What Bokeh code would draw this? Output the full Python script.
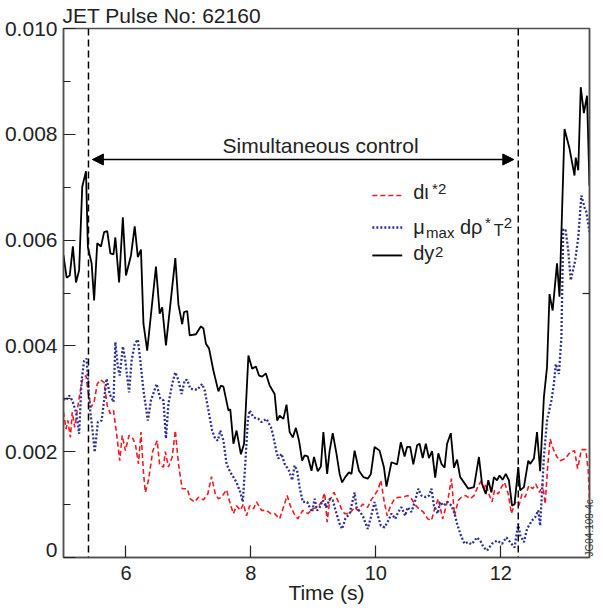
import math
from bokeh.plotting import figure
from bokeh.models import Range1d, FixedTicker, LinearAxis, Label, Arrow, NormalHead, Span
from bokeh.embed import file_html
from bokeh.resources import INLINE

# ---------------- data (values in units of 1e-3) ----------------
dy_t = [5.00, 5.05, 5.10, 5.15, 5.20, 5.25, 5.30, 5.36, 5.39, 5.45, 5.49, 5.54, 5.60, 5.65, 5.70,
        5.75, 5.80, 5.83, 5.89, 5.95, 6.00, 6.08, 6.14, 6.19, 6.24, 6.28, 6.34, 6.48, 6.54, 6.58,
        6.64, 6.79, 6.84, 6.90, 6.93, 6.98, 7.02, 7.12, 7.20, 7.24, 7.28, 7.33, 7.40, 7.48, 7.52,
        7.56, 7.64, 7.67, 7.72, 7.77, 7.84, 7.89, 7.96, 8.02, 8.08, 8.13, 8.18, 8.24, 8.30, 8.38,
        8.42, 8.46, 8.52, 8.57, 8.62, 8.67, 8.72, 8.77, 8.82, 8.86, 8.91, 8.97, 9.01, 9.07, 9.12,
        9.16, 9.22, 9.26, 9.31, 9.37, 9.42, 9.46, 9.51, 9.57, 9.61, 9.66, 9.73, 9.80, 9.87, 9.92,
        9.98, 10.06, 10.13, 10.17, 10.25, 10.34, 10.40, 10.46, 10.50, 10.55, 10.60, 10.66, 10.70,
        10.75, 10.80, 10.85, 10.90, 10.95, 11.00, 11.05, 11.10, 11.14, 11.20, 11.25, 11.30, 11.35,
        11.41, 11.48, 11.57, 11.65, 11.70, 11.76, 11.80, 11.85, 11.89, 11.94, 11.98, 12.03, 12.08,
        12.13, 12.18, 12.22, 12.28, 12.31, 12.37, 12.44, 12.47, 12.53, 12.58, 12.63, 12.69, 12.74,
        12.78, 12.83, 12.90, 12.94, 13.02, 13.10, 13.18, 13.20, 13.24, 13.28, 13.33, 13.38, 13.42]
dy_v = [5.71, 5.29, 5.33, 5.88, 5.20, 5.43, 7.01, 7.30, 5.87, 5.56, 4.86, 5.94, 5.88, 6.15, 6.17,
        5.75, 5.73, 6.05, 5.20, 6.43, 5.33, 5.71, 6.26, 5.68, 5.82, 4.42, 3.91, 5.50, 4.61, 4.73,
        4.01, 5.66, 4.78, 4.41, 4.64, 4.66, 4.20, 4.22, 4.37, 4.33, 4.04, 3.95, 3.53, 3.14, 3.25,
        3.23, 2.78, 2.80, 2.15, 2.40, 1.95, 2.15, 3.82, 3.57, 3.61, 3.44, 3.42, 3.48, 3.25, 3.09,
        2.59, 2.68, 2.62, 2.89, 2.37, 2.27, 2.45, 2.21, 1.83, 1.93, 1.91, 1.64, 1.90, 1.63, 1.72,
        2.37, 1.58, 2.02, 2.35, 1.96, 1.58, 1.42, 1.52, 1.61, 1.58, 2.02, 1.64, 1.52, 1.49, 1.58,
        2.09, 2.02, 1.70, 1.34, 1.80, 1.76, 2.18, 1.91, 2.09, 2.09, 1.76, 2.12, 2.15,
        1.88, 2.15, 1.88, 2.01, 1.51, 1.97, 1.77, 1.70, 2.15, 2.35, 1.70, 1.85, 1.52,
        1.42, 1.30, 1.33, 1.90, 1.39, 1.20, 1.46, 1.23, 1.52, 1.46, 1.55, 1.47, 1.58,
        1.46, 0.98, 1.01, 1.71, 1.27, 1.33, 1.83, 1.77, 1.87, 2.37, 1.63, 3.03, 3.60,
        4.98, 4.67, 5.56, 4.93, 8.10, 7.73, 7.22, 7.56, 7.32, 8.89, 8.40, 8.73, 7.03]

mu_t = [5.00, 5.04, 5.09, 5.14, 5.20, 5.25, 5.29, 5.33, 5.37, 5.42, 5.46, 5.50, 5.55, 5.61, 5.65,
        5.69, 5.74, 5.80, 5.83, 5.87, 5.90, 5.95, 5.99, 6.05, 6.09, 6.14, 6.19, 6.23, 6.28, 6.35,
        6.40, 6.49, 6.55, 6.60, 6.64, 6.68, 6.74, 6.79, 6.84, 6.89, 6.94, 6.98, 7.03, 7.14, 7.22,
        7.26, 7.32, 7.38, 7.43, 7.47, 7.51, 7.56, 7.61, 7.67, 7.72, 7.77, 7.83, 7.87, 7.91, 7.95,
        7.98, 8.04, 8.12, 8.17, 8.25, 8.32, 8.35, 8.41, 8.44, 8.49, 8.54, 8.61, 8.66, 8.70, 8.74,
        8.78, 8.83, 8.90, 8.94, 8.98, 9.02, 9.06, 9.10, 9.15, 9.21, 9.26, 9.31, 9.37, 9.42, 9.46,
        9.51, 9.58, 9.63, 9.66, 9.69, 9.75, 9.80, 9.87, 9.92, 9.98, 10.03, 10.08, 10.14, 10.20,
        10.25, 10.31, 10.36, 10.41, 10.47, 10.51, 10.57, 10.63, 10.68, 10.73, 10.80, 10.85, 10.89,
        10.93, 10.99, 11.03, 11.08, 11.15, 11.21, 11.26, 11.30, 11.36, 11.42, 11.47, 11.53, 11.58,
        11.62, 11.68, 11.72, 11.78, 11.86, 11.94, 12.02, 12.09, 12.15, 12.22, 12.28, 12.31, 12.37,
        12.42, 12.50, 12.55, 12.60, 12.63, 12.69, 12.74, 12.81, 12.85, 12.88, 12.93, 12.97, 13.00,
        13.04, 13.08, 13.12, 13.19, 13.24, 13.29, 13.34, 13.37, 13.42]
mu_v = [3.00, 2.97, 3.06, 2.97, 2.75, 2.34, 3.35, 3.72, 3.76, 2.84, 2.46, 1.99, 2.56, 2.59, 2.97,
        3.38, 3.09, 2.94, 4.07, 3.60, 3.44, 3.99, 3.72, 3.12, 3.72, 4.04, 4.12, 3.72, 3.16, 2.59,
        2.97, 3.28, 3.00, 2.97, 2.25, 2.91, 3.28, 3.50, 3.35, 3.09, 3.35, 3.36, 3.19, 3.17, 3.28,
        3.16, 2.78, 2.40, 2.24, 2.21, 2.40, 2.21, 1.77, 1.61, 1.52, 1.42, 1.23, 1.05, 1.77, 2.59,
        2.78, 2.65, 2.62, 2.56, 2.62, 2.46, 2.34, 1.99, 1.87, 1.96, 1.77, 1.64, 1.46, 1.74, 1.64,
        1.33, 1.05, 1.05, 0.95, 0.86, 1.11, 0.89, 0.95, 1.08, 0.95, 1.11, 1.08, 0.83, 0.64, 0.54,
        0.73, 0.83, 1.08, 1.23, 0.95, 0.86, 0.76, 0.54, 0.76, 1.05, 0.80, 0.60, 0.57, 0.70,
        0.83, 0.73, 0.86, 0.95, 0.79, 0.95, 0.86, 1.08, 1.30, 1.17, 1.14, 1.17, 1.30,
        0.98, 0.83, 1.05, 0.98, 1.05, 0.98, 0.83, 0.64, 0.42, 0.26, 0.29, 0.25, 0.32,
        0.38, 0.30, 0.20, 0.13, 0.26, 0.32, 0.26, 0.38, 0.29, 0.19, 0.64, 0.42, 0.29,
        0.54, 0.70, 0.76, 0.89, 0.60, 1.90, 2.59, 2.97, 3.28, 3.66, 3.47, 4.16, 6.21,
        6.18, 5.80, 5.24, 5.61, 6.05, 6.84, 6.62, 6.53, 6.15]

di_t = [5.00, 5.04, 5.07, 5.11, 5.14, 5.18, 5.22, 5.27, 5.30, 5.36, 5.39, 5.44, 5.49, 5.54, 5.59,
        5.65, 5.70, 5.75, 5.80, 5.85, 5.90, 5.94, 5.99, 6.05, 6.10, 6.15, 6.20, 6.24, 6.28, 6.31,
        6.36, 6.43, 6.50, 6.54, 6.60, 6.63, 6.68, 6.74, 6.79, 6.84, 6.90, 6.98, 7.03, 7.10, 7.16,
        7.24, 7.31, 7.37, 7.43, 7.48, 7.53, 7.61, 7.67, 7.72, 7.77, 7.83, 7.88, 7.93, 7.98, 8.04,
        8.09, 8.17, 8.25, 8.32, 8.38, 8.46, 8.58, 8.63, 8.69, 8.75, 8.83, 8.91, 8.99, 9.07, 9.13,
        9.18, 9.22, 9.26, 9.33, 9.39, 9.45, 9.50, 9.58, 9.66, 9.71, 9.79, 9.87, 9.92, 9.99, 10.03,
        10.08, 10.13, 10.18, 10.23, 10.30, 10.36, 10.43, 10.51, 10.57, 10.64, 10.69, 10.76, 10.83,
        10.89, 10.94, 11.00, 11.07, 11.12, 11.16, 11.21, 11.26, 11.32, 11.37, 11.44, 11.51, 11.57,
        11.63, 11.69, 11.73, 11.76, 11.81, 11.86, 11.90, 11.96, 12.01, 12.06, 12.12, 12.17, 12.23,
        12.29, 12.34, 12.39, 12.45, 12.51, 12.56, 12.62, 12.67, 12.71, 12.75, 12.79, 12.85, 12.90,
        12.95, 13.03, 13.11, 13.18, 13.23, 13.29, 13.36, 13.40, 13.42]
di_v = [2.75, 2.43, 2.59, 2.27, 2.75, 2.46, 2.78, 3.16, 3.35, 3.44, 3.16, 2.84, 2.94, 3.28, 3.36,
        3.31, 2.87, 2.72, 2.78, 2.34, 1.83, 2.31, 2.02, 2.31, 2.27, 2.15, 1.77, 2.37, 1.61, 1.23,
        1.46, 2.02, 2.21, 1.74, 1.71, 2.00, 1.71, 1.90, 2.40, 1.77, 1.30, 1.30, 1.11, 1.05, 1.14,
        1.09, 1.20, 1.53, 1.20, 1.11, 1.14, 1.28, 1.01, 0.83, 0.98, 0.89, 1.01, 0.79, 0.98, 0.92,
        1.05, 0.89, 0.89, 0.83, 0.83, 0.73, 1.17, 0.98, 0.83, 0.73, 0.89, 0.83, 0.92, 0.95, 1.05,
        1.22, 0.67, 1.08, 1.23, 1.08, 0.92, 0.83, 0.83, 0.95, 0.89, 1.01, 0.95, 1.08, 1.20, 1.27,
        1.46, 1.08, 0.79, 0.96, 1.11, 1.14, 1.14, 1.17, 1.11, 0.98, 0.92, 0.86, 0.73,
        0.70, 0.92, 1.11, 0.73, 0.95, 1.14, 1.49, 0.79, 1.08, 1.14, 1.17, 1.11, 1.17,
        1.33, 1.46, 1.27, 1.39, 1.20, 1.05, 1.27, 1.20, 1.33, 1.42, 1.20, 0.83, 1.05,
        0.98, 1.20, 1.14, 1.36, 1.30, 1.39, 1.23, 1.39, 1.01, 1.71, 2.24, 2.02, 1.90,
        1.83, 1.87, 1.99, 2.02, 1.68, 2.04, 2.04, 1.64, 1.08]

SCALE = 1e-3
x_ticks = [6, 8, 10, 12]
y_ticks = [0.0, 0.002, 0.004, 0.006, 0.008, 0.010]
y_tick_labels = ["0", "0.002", "0.004", "0.006", "0.008", "0.010"]
y_minor = [0.001, 0.003, 0.005, 0.007, 0.009]
right_ticks = [0.005]
control_window = [5.40, 12.28]
title_text = "JET Pulse No: 62160"
x_label = "Time (s)"
note_text = "Simultaneous control"
code_text = "JG04.109-4c"

# ---------------- layout ----------------
X0, X1 = 5.0, 13.42
Y0, Y1 = 0.0, 0.010
W, H = 603, 610
BL, BR, BT, BB = 63, 12, 28, 53
FL, FR, FT, FB = BL, W - BR, BT, H - BB  # frame in page px


def tx(px):
    return X0 + (px - FL) * (X1 - X0) / (FR - FL)


def vy(py):
    return Y1 - (py - FT) * (Y1 - Y0) / (FB - FT)


FONT = "Liberation Sans"
TXT = "#222222"
AX = "#505050"

p = figure(width=W, height=H, x_range=Range1d(X0, X1), y_range=Range1d(Y0, Y1),
           output_backend="svg", toolbar_location=None,
           min_border_left=BL, min_border_right=BR, min_border_top=BT, min_border_bottom=BB)
p.background_fill_color = "white"
p.border_fill_color = "white"
p.xgrid.visible = False
p.ygrid.visible = False
p.outline_line_color = AX
p.outline_line_width = 1.5

# title
p.title.text = title_text
p.title.align = "left"
p.title.text_font = FONT
p.title.text_font_size = "21px"
p.title.text_font_style = "normal"
p.title.text_color = TXT
p.title.standoff = 3
p.title.offset = -1

# x axis
xa = p.xaxis[0]
xa.ticker = FixedTicker(ticks=x_ticks)
xa.axis_line_color = AX
xa.axis_line_width = 1.5
xa.major_tick_in = 12
xa.major_tick_out = 0
xa.minor_tick_in = 0
xa.minor_tick_out = 0
xa.major_tick_line_color = TXT
xa.major_tick_line_width = 1.2
xa.major_label_text_font = FONT
xa.major_label_text_font_size = "20px"
xa.major_label_text_color = TXT
xa.major_label_standoff = 8
xa.axis_label = x_label
xa.axis_label_text_font = FONT
xa.axis_label_text_font_size = "21px"
xa.axis_label_text_font_style = "normal"
xa.axis_label_text_color = TXT
xa.axis_label_standoff = -2

# y axis: tick marks only (closest to frame)
ya = p.yaxis[0]
ya.ticker = FixedTicker(ticks=y_ticks, minor_ticks=y_minor)
ya.axis_line_color = AX
ya.axis_line_width = 1.5
ya.major_tick_in = 12
ya.major_tick_out = 0
ya.minor_tick_in = 7
ya.minor_tick_out = 0
ya.major_tick_line_color = TXT
ya.minor_tick_line_color = TXT
ya.major_tick_line_width = 1.2
ya.minor_tick_line_width = 1.2
ya.major_label_overrides = {t: "" for t in y_ticks}
ya.major_label_standoff = 0

# y axis: labels only (the zero label sits a little above the corner)
y_label_pos = [vy(549)] + y_ticks[1:]
yl = LinearAxis(ticker=FixedTicker(ticks=y_label_pos, minor_ticks=[]),
                axis_line_color=None, major_tick_line_color=None, minor_tick_line_color=None,
                major_tick_in=0, major_tick_out=0, minor_tick_in=0, minor_tick_out=0,
                major_label_overrides={t: s for t, s in zip(y_label_pos, y_tick_labels)},
                major_label_text_font=FONT, major_label_text_font_size="21px",
                major_label_text_color=TXT, major_label_standoff=6)
p.add_layout(yl, "left")

# right axis: frame tick
ra = LinearAxis(ticker=FixedTicker(ticks=right_ticks, minor_ticks=[]), major_tick_in=7,
                major_tick_out=0, minor_tick_in=0, minor_tick_out=0, axis_line_color=AX,
                axis_line_width=1.5, major_tick_line_color=TXT, major_tick_line_width=1.2,
                major_label_overrides={t: "" for t in right_ticks}, major_label_standoff=0)
p.add_layout(ra, "right")

# right side code label (reads bottom-to-top, starting near the lower corner)
code_pos = [vy(556)]
rc = LinearAxis(ticker=FixedTicker(ticks=code_pos, minor_ticks=[]),
                axis_line_color=None, major_tick_line_color=None, minor_tick_line_color=None,
                major_tick_in=0, major_tick_out=0, minor_tick_in=0, minor_tick_out=0,
                major_label_overrides={code_pos[0]: code_text},
                major_label_orientation=math.pi / 2,
                major_label_text_font=FONT, major_label_text_font_size="10px",
                major_label_text_color="#333333", major_label_standoff=0)
p.add_layout(rc, "right")

# control window markers
for loc in control_window:
    p.add_layout(Span(location=loc, dimension="height", line_color="black",
                      line_dash="7 4", line_width=1.5))

# series
p.line(di_t, [v * SCALE for v in di_v], line_color="#ee1c25", line_dash="5 3", line_width=1.6)
p.line(mu_t, [v * SCALE for v in mu_v], line_color="#2e3192", line_dash="2 2", line_width=2.3)
p.line(dy_t, [v * SCALE for v in dy_v], line_color="black", line_width=1.8)

# arrow for simultaneous control
p.add_layout(Arrow(start=NormalHead(size=11, fill_color="black", line_color="black"),
                   end=NormalHead(size=11, fill_color="black", line_color="black"),
                   x_start=tx(92), y_start=vy(159), x_end=tx(515), y_end=vy(159),
                   line_color="black", line_width=1.3))
p.add_layout(Label(x=tx(321), y=vy(145), text=note_text, text_align="center",
                   text_baseline="middle", text_font=FONT, text_font_size="21px",
                   text_color=TXT))

# legend (manual)
samples = [(195, "#ee1c25", "5 3", 1.6), (227, "#2e3192", "2 2", 2.3), (255, "black", "solid", 1.8)]
for yy, col, dash, lw in samples:
    p.add_layout(Arrow(start=None, end=None, x_start=tx(373), y_start=vy(yy), x_end=tx(403),
                       y_end=vy(yy), line_color=col, line_dash=dash, line_width=lw))

pieces = [
    ("dι", 414, 191, "20px"), ("*2", 433, 188, "15px"),
    ("μ", 414, 226, "20px"), ("max", 427, 232, "15px"), ("dρ", 461, 226, "20px"),
    ("*", 486, 222, "15px"), ("T", 495, 230, "16px"), ("2", 505, 222, "15px"),
    ("dy", 414, 252, "20px"), ("2", 436, 251, "15px"),
]
for txt, px, py, fs in pieces:
    p.add_layout(Label(x=tx(px), y=vy(py), text=txt, text_align="left",
                       text_baseline="middle", text_font=FONT, text_font_size=fs,
                       text_color=TXT))

open("out.html", "w").write(file_html(p, INLINE))
